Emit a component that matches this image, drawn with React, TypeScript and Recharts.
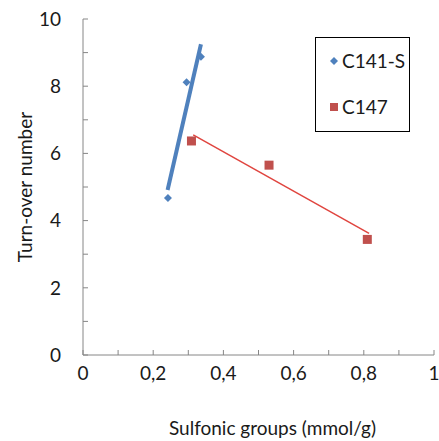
import {
  Label,
  Scatter,
  ScatterChart,
  XAxis,
  YAxis,
} from 'recharts';

// C141-S measured points
const c141X = [0.242, 0.295, 0.336];
const c141Y = [4.67, 8.12, 8.88];
// C147 measured points
const c147X = [0.309, 0.53, 0.81];
const c147Y = [6.37, 5.65, 3.44];
// linear trend lines (end points)
const c141TrendX = [0.241, 0.336];
const c141TrendY = [4.91, 9.25];
const c147TrendX = [0.314, 0.815];
const c147TrendY = [6.55, 3.62];

const xTicks = [0, 0.1, 0.2, 0.3, 0.4, 0.5, 0.6, 0.7, 0.8, 0.9, 1];
const yTicks = [0, 1, 2, 3, 4, 5, 6, 7, 8, 9, 10];

const BLUE = '#4F81BD';
const RED = '#C0504D';
const FONT = 'Lato, "Open Sans", sans-serif';
const TEXT = '#1a1a1a';

const zip = (xs: number[], ys: number[]) => xs.map((x, i) => ({ x, y: ys[i] }));

const c141 = zip(c141X, c141Y);
const c147 = zip(c147X, c147Y);
const c141Trend = zip(c141TrendX, c141TrendY);
const c147Trend = zip(c147TrendX, c147TrendY);

function Diamond(props: any) {
  const { cx, cy } = props;
  const r = 4;
  return (
    <polygon
      points={`${cx},${cy - r} ${cx + r},${cy} ${cx},${cy + r} ${cx - r},${cy}`}
      fill={BLUE}
    />
  );
}

function Square(props: any) {
  const { cx, cy } = props;
  return <rect x={cx - 4.5} y={cy - 4.5} width={9} height={9} fill={RED} />;
}

const fmt = (v: number) => {
  const r = Math.round(v * 10);
  if (r % 2 !== 0) return '';
  return String(v).replace('.', ',');
};
const fmtY = (v: number) => (v % 2 === 0 ? String(v) : '');

function LegendBox() {
  return (
    <div
      style={{
        position: 'absolute',
        left: 315,
        top: 37,
        width: 95,
        height: 95,
        border: '1px solid #000',
        boxSizing: 'border-box',
        fontFamily: FONT,
        fontSize: 19,
        color: TEXT,
        background: '#fff',
      }}
    >
      <div style={{ position: 'absolute', left: 13, top: 11, display: 'flex', alignItems: 'center' }}>
        <svg width={10} height={10}>
          <polygon points="5,1 9,5 5,9 1,5" fill={BLUE} />
        </svg>
        <span style={{ marginLeft: 3 }}>C141-S</span>
      </div>
      <div style={{ position: 'absolute', left: 13, top: 57, display: 'flex', alignItems: 'center' }}>
        <svg width={10} height={10}>
          <rect x={1} y={1} width={8} height={8} fill={RED} />
        </svg>
        <span style={{ marginLeft: 3 }}>C147</span>
      </div>
    </div>
  );
}

export default function App() {
  return (
    <div style={{ position: 'absolute', left: 0, top: 0, width: 439, height: 441, background: '#fff' }}>
      <ScatterChart
        width={439}
        height={441}
        margin={{ top: 19, right: 5, bottom: 0, left: 0 }}
      >
        <XAxis
          type="number"
          dataKey="x"
          domain={[0, 1]}
          ticks={xTicks}
          tickFormatter={fmt}
          interval={0}
          height={86}
          stroke="#868686"
          tickSize={-5}
          tickMargin={17}
          tick={{ fill: TEXT, fontSize: 19, fontFamily: FONT }}
        >
          <Label
            value="Sulfonic groups (mmol/g)"
            position="insideBottom"
            offset={6}
            dx={14}
            style={{ fill: TEXT, fontSize: 19, fontFamily: FONT }}
          />
        </XAxis>
        <XAxis
          xAxisId="top"
          orientation="top"
          type="number"
          domain={[0, 1]}
          height={0}
          tick={false}
          tickLine={false}
          stroke="#595959"
        />
        <YAxis
          type="number"
          dataKey="y"
          domain={[0, 10]}
          ticks={yTicks}
          tickFormatter={fmtY}
          interval={0}
          width={83}
          stroke="#868686"
          tickSize={-5}
          tickMargin={27}
          tick={{ fill: TEXT, fontSize: 19, fontFamily: FONT }}
        >
          <Label
            value="Turn-over number"
            angle={-90}
            position="insideLeft"
            offset={25}
            style={{ fill: TEXT, fontSize: 19, fontFamily: FONT, textAnchor: 'middle' }}
          />
        </YAxis>
        <YAxis
          yAxisId="right"
          orientation="right"
          type="number"
          domain={[0, 10]}
          width={0}
          tick={false}
          tickLine={false}
          stroke="#404040"
        />
        <Scatter
          data={c147Trend}
          line={{ stroke: '#E0453F', strokeWidth: 1.5 }}
          shape={() => <g />}
          legendType="none"
          isAnimationActive={false}
        />
        <Scatter
          data={c141Trend}
          line={{ stroke: BLUE, strokeWidth: 4 }}
          shape={() => <g />}
          legendType="none"
          isAnimationActive={false}
        />
        <Scatter name="C141-S" data={c141} shape={Diamond} isAnimationActive={false} />
        <Scatter name="C147" data={c147} shape={Square} isAnimationActive={false} />
      </ScatterChart>
      <LegendBox />
    </div>
  );
}
